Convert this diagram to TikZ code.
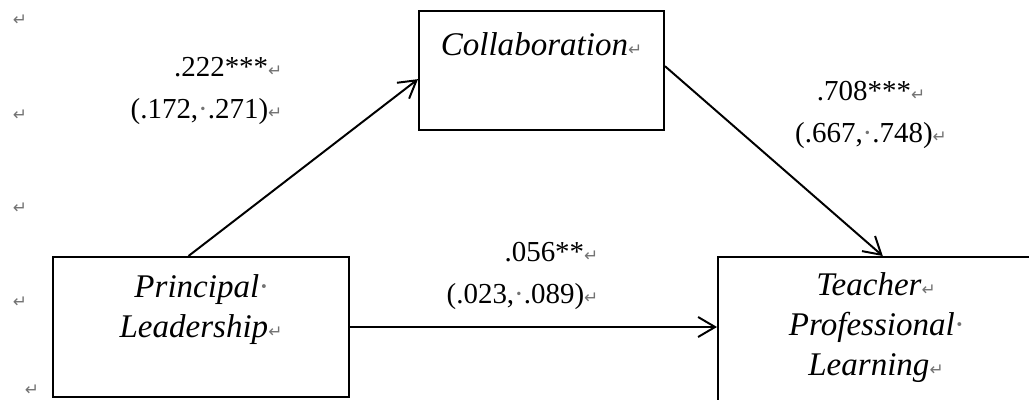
\documentclass[tikz,border=0pt]{standalone}
\usepackage{fontspec}
\setmainfont{Liberation Serif}
\newfontfamily\markfont{DejaVu Sans}
\usetikzlibrary{arrows.meta}
\definecolor{markgray}{gray}{0.45}
\newcommand{\pmark}{{\markfont\fontsize{12}{12}\selectfont\textcolor{markgray}{↵}}}
\newcommand{\smark}{\textcolor{markgray}{·}}

\begin{document}
\begin{tikzpicture}[varbox/.style={draw, line width=1.4pt, inner sep=0pt, align=center,
		font=\fontsize{23.5}{28.45}\selectfont\itshape},
	arr/.style={line width=1.4pt, -{Straight Barb[length=0.425cm, width=0.5cm]}},
	coef/.style={inner sep=0pt, font=\fontsize{20.6}{29.5}\selectfont}]
		\useasboundingbox (0,0) rectangle (25.725,9.975);
		\clip (0,0) rectangle (25.725,9.975);
		\node[varbox, minimum width=6.125cm, text height=1.1cm, text depth=1.875cm] (collab) at (13.5375,8.2125) {Collaboration\pmark};
		\node[varbox, minimum width=7.4cm, text height=2cm, text depth=1.5cm] (lead) at (5.025,1.8) {Principal\smark\\Leadership\pmark};
		\node[varbox, minimum width=7.9cm, text height=2.95cm, text depth=1.875cm] (learn) at (21.9,1.1375) {Teacher\pmark\\Professional\smark\\Learning\pmark};
		\node[coef, align=right] (ca) at (5.1625,7.7) {.222***\pmark\\(.172,\smark.271)\pmark};
		\node[coef, align=center] (cb) at (21.775,7.1) {.708***\pmark\\(.667,\smark.748)\pmark};
		\node[coef, align=right] (cc) at (13.0625,3.075) {.056**\pmark\\(.023,\smark.089)\pmark};
		% empty paragraphs in the left margin
		\node (m1) at (0.5,9.475) {\pmark};
		\node (m2) at (0.5,7.1) {\pmark};
		\node (m3) at (0.5,4.775) {\pmark};
		\node (m4) at (0.5,2.425) {\pmark};
		\node (m5) at (0.8,0.225) {\pmark};
		\draw[arr] (lead.100) -- (collab.184);
		\draw[arr] (collab.2) -- (learn.86);
		\draw[arr] (lead.east) -- (lead.east -| learn.west);
	\end{tikzpicture}
\end{document}
